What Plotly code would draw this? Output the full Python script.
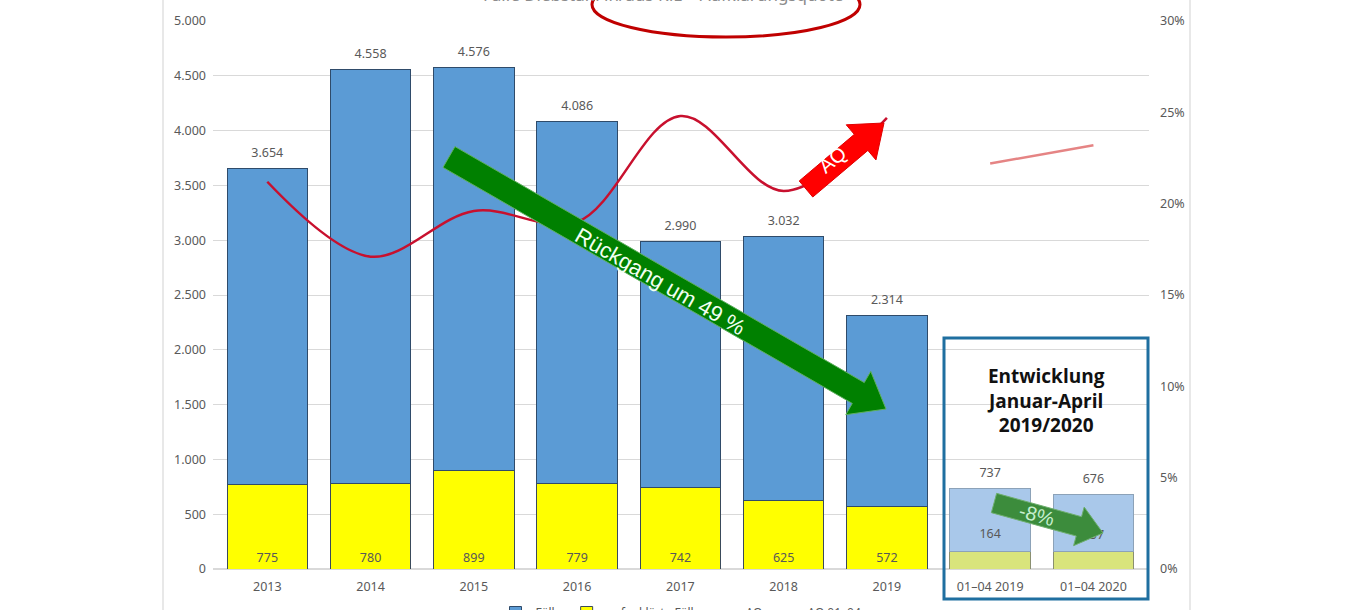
import math
import plotly.graph_objects as go

# ---------------- data ----------------
categories = ["2013", "2014", "2015", "2016", "2017", "2018", "2019", "01–04 2019", "01–04 2020"]
years = categories[:7]
periods = categories[7:]
faelle_total = [3654, 4558, 4576, 4086, 2990, 3032, 2314]
faelle_aufgeklaert = [775, 780, 899, 779, 742, 625, 572]
period_total = [737, 676]
period_aufgeklaert = [164, 157]
aq_years = [0.212, 0.171, 0.196, 0.190, 0.248, 0.207, 0.247]
aq_periods = [0.222, 0.232]

# ---------------- geometry (screen pixels; body margin removed by post_script) ----------------
W, H = 1355, 610
L, R, T, B = 213, 1149, 21, 569   # plot area in screen pixels


def px(x):
    return (x - L) / (R - L)


def py(y):
    return (B - y) / (B - T)


def arrow_path(x0, y0, x1, y1, w, hw, hl):
    dx, dy = x1 - x0, y1 - y0
    ln = math.hypot(dx, dy)
    ux, uy = dx / ln, dy / ln
    nx, ny = -uy, ux
    neck = (x1 - ux * hl, y1 - uy * hl)
    pts = [
        (x0 + nx * w / 2, y0 + ny * w / 2),
        (neck[0] + nx * w / 2, neck[1] + ny * w / 2),
        (neck[0] + nx * hw / 2, neck[1] + ny * hw / 2),
        (x1, y1),
        (neck[0] - nx * hw / 2, neck[1] - ny * hw / 2),
        (neck[0] - nx * w / 2, neck[1] - ny * w / 2),
        (x0 - nx * w / 2, y0 - ny * w / 2),
    ]
    return "M " + " L ".join(f"{px(a):.5f},{py(b):.5f}" for a, b in pts) + " Z"


fmt = lambda v: f"{v:,}".replace(",", ".")
GRAY = "#595959"
FONT = "Noto Sans"

fig = go.Figure()

fig.add_trace(go.Bar(
    x=years, y=faelle_aufgeklaert, name="aufgeklärte Fälle",
    marker=dict(color="#FFFF00", line=dict(color="#3A4A5A", width=1)),
    text=[fmt(v) for v in faelle_aufgeklaert], textposition="inside",
    insidetextanchor="start", textfont=dict(color=GRAY, size=12.5, family=FONT),
    legendrank=2,
))
fig.add_trace(go.Bar(
    x=years, y=[t - a for t, a in zip(faelle_total, faelle_aufgeklaert)], name="Fälle",
    marker=dict(color="#5B9BD5", line=dict(color="#2F4B6A", width=1)),
    legendrank=1,
))
fig.add_trace(go.Bar(
    x=periods, y=period_aufgeklaert, showlegend=False,
    marker=dict(color="#D9E47C", line=dict(color="#8A8F70", width=1)),
))
fig.add_trace(go.Bar(
    x=periods, y=[t - a for t, a in zip(period_total, period_aufgeklaert)], showlegend=False,
    marker=dict(color="#A9C8EA", line=dict(color="#8CA2B8", width=1)),
))
fig.add_trace(go.Scatter(
    x=categories, y=faelle_total + period_total, mode="markers+text",
    marker=dict(size=12, opacity=0),
    text=[fmt(v) for v in faelle_total + period_total], textposition="top center",
    textfont=dict(color=GRAY, size=12.5, family=FONT), showlegend=False, hoverinfo="skip",
))
fig.add_trace(go.Scatter(
    x=periods, y=period_aufgeklaert, mode="markers+text",
    marker=dict(size=14, opacity=0),
    text=[fmt(v) for v in period_aufgeklaert], textposition="top center",
    textfont=dict(color=GRAY, size=12.5, family=FONT), showlegend=False, hoverinfo="skip",
))
fig.add_trace(go.Scatter(
    x=years, y=aq_years, yaxis="y2", mode="lines", name="AQ",
    line=dict(color="#C8102E", width=2.5, shape="spline", smoothing=1.0),
    legendrank=3,
))
fig.add_trace(go.Scatter(
    x=periods, y=aq_periods, yaxis="y2", mode="lines", name="AQ 01–04",
    line=dict(color="rgba(225,110,110,0.85)", width=2.5),
    legendrank=4,
))

shapes = [
    dict(type="line", xref="paper", yref="paper", x0=px(163), x1=px(163), y0=py(-5), y1=py(615),
         line=dict(color="#D9D9D9", width=1.2)),
    dict(type="line", xref="paper", yref="paper", x0=px(1190), x1=px(1190), y0=py(-5), y1=py(615),
         line=dict(color="#D9D9D9", width=1.2)),
    dict(type="circle", xref="paper", yref="paper", x0=px(592), x1=px(860), y0=py(37), y1=py(-28),
         line=dict(color="#C00000", width=3)),
    dict(type="rect", xref="paper", yref="paper", x0=px(944), x1=px(1148), y0=py(599), y1=py(338),
         line=dict(color="#1F6FA0", width=3)),
    dict(type="path", xref="paper", yref="paper", path=arrow_path(449, 157, 886, 409, 24, 50, 32),
         fillcolor="#008000", line=dict(color="#5FAF5F", width=1)),
    dict(type="path", xref="paper", yref="paper", path=arrow_path(806, 189, 884, 123, 21, 46, 30),
         fillcolor="#FF0000", line=dict(color="#E00000", width=1)),
    dict(type="path", xref="paper", yref="paper", path=arrow_path(994, 503, 1103, 533, 20, 40, 25),
         fillcolor="#3C8C3C", line=dict(color="#6FAF6F", width=1)),
]

ann = dict(xref="paper", yref="paper", showarrow=False, xanchor="center", yanchor="middle")
annotations = [
    dict(ann, x=px(660), y=py(282), text="Rückgang um 49 %", textangle=30,
         font=dict(color="#F2FFF2", size=22, family="Liberation Sans")),
    dict(ann, x=px(832), y=py(160), text="AQ", textangle=-40,
         font=dict(color="#FFFFFF", size=20, family="Liberation Sans")),
    dict(ann, x=px(1037), y=py(515), text="-8%", textangle=15,
         font=dict(color="#C6EFCE", size=20, family="Liberation Sans")),
    dict(ann, x=px(1046), y=py(401),
         text="<b>Entwicklung<br>Januar-April<br>2019/2020</b>",
         font=dict(color="#111111", size=19, family="Open Sans")),
    dict(ann, x=px(663), y=py(8), yanchor="bottom",
         text="Fälle Diebstahl in/aus Kfz – Aufklärungsquote",
         font=dict(color="#8C8C8C", size=17, family=FONT)),
]

fig.update_layout(
    width=W, height=H,
    margin=dict(l=L, r=W - R, t=T, b=H - B, autoexpand=False),
    paper_bgcolor="white", plot_bgcolor="white",
    barmode="stack", bargap=0.22,
    separators=",.",
    font=dict(family=FONT, color=GRAY, size=12),
    xaxis=dict(type="category", categoryorder="array", categoryarray=categories,
               showline=False, ticks="", ticklabelstandoff=8,
               tickfont=dict(size=12.5, color=GRAY), automargin=False),
    yaxis=dict(range=[0, 5000], dtick=500, tickformat=",", gridcolor="#D9D9D9", gridwidth=1,
               zeroline=True, zerolinecolor="#D9D9D9", showline=False, ticks="",
               ticklabelstandoff=6, tickfont=dict(size=12.5, color=GRAY), automargin=False),
    yaxis2=dict(range=[0, 0.30], dtick=0.05, tickformat=".0%", overlaying="y", side="right",
                showgrid=False, zeroline=False, showline=False, ticks="", ticklabelstandoff=10,
                tickfont=dict(size=12.5, color=GRAY), automargin=False),
    legend=dict(orientation="h", x=0.5, xanchor="center", y=py(598), yanchor="top",
                font=dict(size=12, color=GRAY), traceorder="normal"),
    shapes=shapes, annotations=annotations,
)

fig.write_html("out.html", config={"displayModeBar": False},
               post_script="document.body.style.margin='0';")
